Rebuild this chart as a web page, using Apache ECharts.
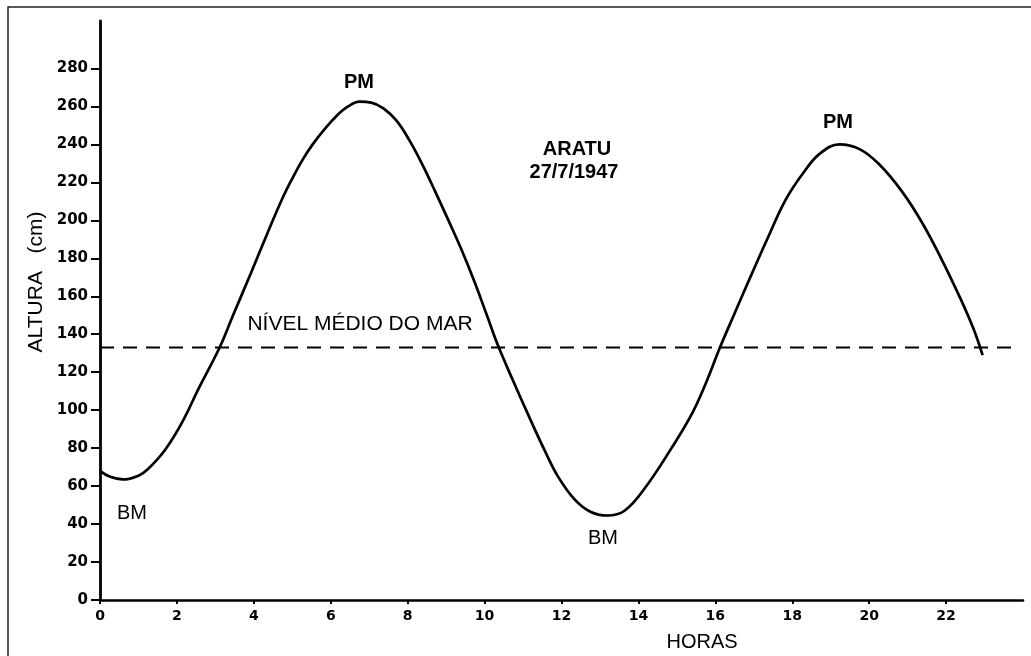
<!DOCTYPE html>
<html>
<head>
<meta charset="utf-8">
<script src="https://cdn.jsdelivr.net/npm/echarts@6/dist/echarts.min.js"></script>
<style>
html,body{margin:0;padding:0;background:#ffffff;}
#chart{width:1031px;height:656px;}
</style>
</head>
<body>
<div id="chart"></div>
<script>
// Tide curve, Aratu 27/7/1947 (hours, height in cm)
const hours = [0.00,0.25,0.60,1.00,1.25,1.69,2.12,2.58,3.11,3.46,3.92,4.37,4.73,5.00,5.27,5.53,5.84,6.15,6.45,6.75,7.05,7.37,7.71,8.05,8.38,8.72,9.06,9.39,9.73,10.06,10.35,10.73,11.08,11.58,11.91,12.34,12.75,13.19,13.64,14.17,14.86,15.39,15.75,16.12,16.48,16.93,17.38,17.82,18.27,18.71,19.23,19.75,20.26,20.86,21.37,21.87,22.38,22.71,22.95];
const heights = [68,65,63.5,65.5,69,79,93,112,133,150,172,194,211,222,232,240,248,255,260,262.5,262,259,252.5,242,229.5,215,200,185,168,150,134,116,100,78,65,53,46.5,44.5,47,59,80,98,114,133,150,171,191.5,210.5,224.5,235,240,237.5,229.5,215,199,180,158.5,143,129];

// Mean sea level (dashed line)
const meanLevelHours = [0, 23.9];
const meanLevel = [133, 133];

// Axis ticks
const xTicks = [0,2,4,6,8,10,12,14,16,18,20,22];
const yTicks = [0,20,40,60,80,100,120,140,160,180,200,220,240,260,280];

// Annotation texts
const highLabel = 'PM';
const lowLabel = 'BM';
const stationLabel = 'ARATU';
const dateLabel = '27/7/1947';
const meanLabel = 'NÍVEL MÉDIO DO MAR';
const xName = 'HORAS';
const yName = 'ALTURA   (cm)';

const tideData = hours.map((h, i) => [h, heights[i]]);
const meanData = meanLevelHours.map((h, i) => [h, meanLevel[i]]);

const chart = echarts.init(document.getElementById('chart'), null, {renderer: 'canvas'});

const tickFont = {fontFamily: 'DejaVu Sans', fontWeight: 'bold', color: '#000'};
const annFont = 'Liberation Sans';

function txt(x, y, text, size, weight, extra) {
  return Object.assign({
    type: 'text',
    x: x, y: y,
    style: {
      text: text,
      fill: '#000',
      font: (weight || 'normal') + ' ' + size + 'px "' + annFont + '"',
      textAlign: 'center',
      textVerticalAlign: 'middle'
    },
    z: 10
  }, extra || {});
}

chart.setOption({
  animation: false,
  backgroundColor: '#ffffff',
  grid: {left: 100, right: 8, top: 21, bottom: 56, containLabel: false},
  xAxis: {
    type: 'value',
    min: 0,
    max: 24,
    axisLine: {show: true, onZero: false, lineStyle: {color: '#000', width: 2.5}},
    axisTick: {show: true, customValues: xTicks, length: 4, lineStyle: {color: '#000', width: 2}},
    axisLabel: Object.assign({customValues: xTicks, margin: 9, fontSize: 14}, tickFont),
    splitLine: {show: false}
  },
  yAxis: {
    type: 'value',
    min: 0,
    max: 305,
    axisLine: {show: true, onZero: false, lineStyle: {color: '#000', width: 2.8}},
    axisTick: {show: true, customValues: yTicks, length: 9, lineStyle: {color: '#000', width: 2}},
    axisLabel: Object.assign({customValues: yTicks, margin: 12, fontSize: 15}, tickFont),
    splitLine: {show: false}
  },
  series: [
    {
      type: 'line',
      data: meanData,
      showSymbol: false,
      silent: true,
      lineStyle: {color: '#000', width: 2.2, type: [14, 9]},
      z: 3
    },
    {
      type: 'line',
      data: tideData,
      smooth: 0.4,
      showSymbol: false,
      silent: true,
      lineStyle: {color: '#000', width: 2.7},
      z: 4
    }
  ],
  graphic: [
    {
      type: 'rect',
      shape: {x: 8, y: 7, width: 1100, height: 700},
      style: {fill: 'none', stroke: '#222', lineWidth: 1.5},
      z: 1
    },
    txt(359, 82, highLabel, 20, 'bold'),
    txt(838, 122, highLabel, 20, 'bold'),
    txt(132, 513, lowLabel, 20, 'normal'),
    txt(603, 538, lowLabel, 20, 'normal'),
    txt(577, 149, stationLabel, 20, 'bold'),
    txt(574, 172, dateLabel, 20, 'bold'),
    txt(360, 324, meanLabel, 21, 'normal'),
    txt(702, 642, xName, 20, 'normal'),
    txt(36, 282, yName, 21, 'normal', {rotation: Math.PI / 2})
  ]
});
</script>
</body>
</html>
